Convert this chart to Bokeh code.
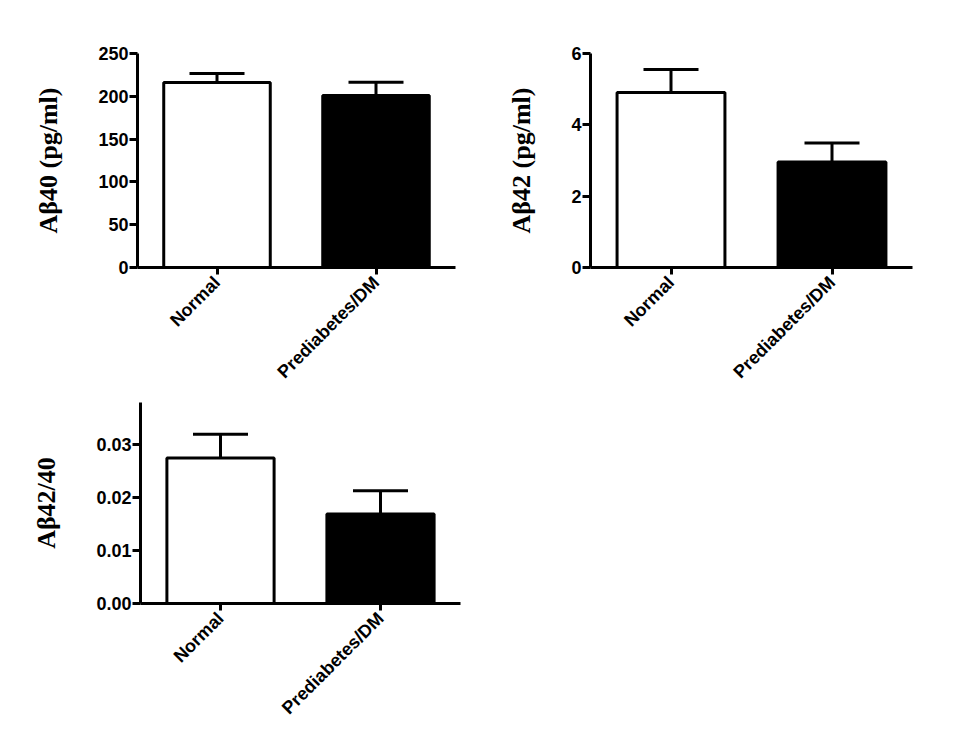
import math
from bokeh.plotting import figure
from bokeh.models import (ColumnDataSource, FactorRange, Range1d, FixedTicker,
                          Whisker, TeeHead, NumeralTickFormatter)
from bokeh.layouts import column, row
from bokeh.embed import file_html
from bokeh.resources import INLINE

# ---- data ----
categories = ["Normal", "Prediabetes/DM"]

ab40_mean = [216, 201]
ab40_sem = [10.5, 15.5]

ab42_mean = [4.91, 2.96]
ab42_sem = [0.64, 0.53]

ratio_mean = [0.0275, 0.0169]
ratio_sem = [0.0045, 0.0044]

ab40_ticks = [0, 50, 100, 150, 200, 250]
ab42_ticks = [0, 2, 4, 6]
ratio_ticks = [0.00, 0.01, 0.02, 0.03]

bar_colors = ["white", "black"]

SANS = "Liberation Sans"
SERIF = "Liberation Serif"


def panel(mean, sem, ticks, ymax, ylabel, width, height, borders, fmt=None):
    left, right, top, bottom = borders
    p = figure(x_range=FactorRange(*categories, range_padding=0),
               y_range=Range1d(0, ymax),
               width=width, height=height, output_backend="svg",
               toolbar_location=None, tools="")
    p.min_border_left = left
    p.min_border_right = right
    p.min_border_top = top
    p.min_border_bottom = bottom
    p.outline_line_color = None
    p.xgrid.grid_line_color = None
    p.ygrid.grid_line_color = None
    p.background_fill_color = "white"
    p.border_fill_color = "white"

    src = ColumnDataSource(dict(
        x=categories, top=mean,
        upper=[m + s for m, s in zip(mean, sem)],
        color=bar_colors))

    w = Whisker(base="x", lower="top", upper="upper", source=src,
                line_color="black", line_width=3,
                upper_head=TeeHead(size=55, line_color="black", line_width=3),
                lower_head=None)
    p.add_layout(w)

    p.vbar(x="x", top="top", bottom=0, width=0.67, source=src,
           fill_color="color", line_color="black", line_width=3)

    # y axis
    ya = p.yaxis[0]
    ya.ticker = FixedTicker(ticks=ticks)
    if fmt:
        ya.formatter = NumeralTickFormatter(format=fmt)
    ya.minor_tick_line_color = None
    ya.major_tick_in = 0
    ya.major_tick_out = 8
    ya.major_tick_line_width = 3
    ya.axis_line_width = 3
    ya.major_label_text_font = SANS
    ya.major_label_text_font_style = "bold"
    ya.major_label_text_font_size = "18px"
    ya.major_label_text_color = "black"
    ya.major_label_standoff = 1
    ya.axis_label = ylabel
    ya.axis_label_text_font = SERIF
    ya.axis_label_text_font_style = "bold"
    ya.axis_label_text_font_size = "26px"
    ya.axis_label_text_color = "black"
    ya.axis_label_standoff = 32

    # x axis
    xa = p.xaxis[0]
    xa.axis_line_width = 3
    xa.major_tick_in = 0
    xa.major_tick_out = 7
    xa.major_tick_line_width = 3
    xa.minor_tick_line_color = None
    xa.major_label_orientation = math.pi / 4
    xa.major_label_text_font = SANS
    xa.major_label_text_font_style = "bold"
    xa.major_label_text_font_size = "18px"
    xa.major_label_text_color = "black"
    xa.major_label_standoff = 5
    return p


p1 = panel(ab40_mean, ab40_sem, ab40_ticks, 250, "Aβ40 (pg/ml)",
           480, 395, (137, 25, 53, 128))
p2 = panel(ab42_mean, ab42_sem, ab42_ticks, 6, "Aβ42 (pg/ml)",
           477, 395, (110, 45, 53, 128))
p3 = panel(ratio_mean, ratio_sem, ratio_ticks, 0.038, "Aβ42/40",
           480, 336, (140, 20, 7, 128), fmt="0.00")

layout = column(row(p1, p2, spacing=0), p3, spacing=0)

open("out.html", "w").write(file_html(layout, INLINE))
